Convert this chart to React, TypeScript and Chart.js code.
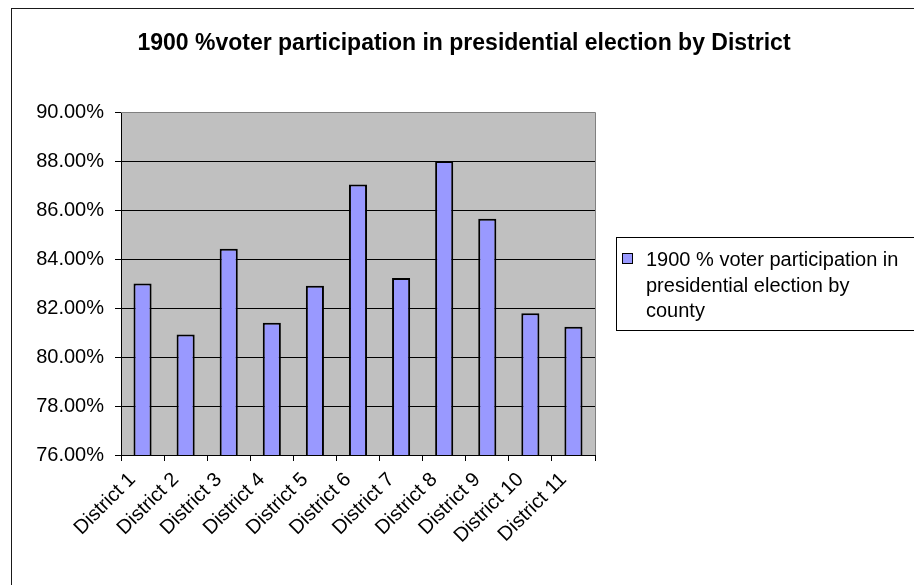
import React, { useEffect, useRef } from "react";
import { Chart, registerables } from "chart.js";

Chart.register(...registerables);

const chartTitle = "1900 %voter participation in presidential election by District";
const categories = [
  "District 1",
  "District 2",
  "District 3",
  "District 4",
  "District 5",
  "District 6",
  "District 7",
  "District 8",
  "District 9",
  "District 10",
  "District 11",
];
const participation = [83.0, 80.92, 84.42, 81.4, 82.91, 87.04, 83.22, 88.0, 85.64, 81.79, 81.23];
const seriesLabel = "1900 % voter participation in presidential election by county";
const legendLines = ["1900 % voter participation in", "presidential election by", "county"];
const yMin = 76;
const yMax = 90;
const yStep = 2;

const FONT = "'Liberation Sans', Arial, sans-serif";
const BAR_FILL = "#9999FF";
const PLOT_BG = "#C0C0C0";

const decorPlugin = {
  id: "decor",
  beforeDraw(chart: any) {
    const { ctx, chartArea } = chart;
    ctx.save();
    ctx.fillStyle = "#ffffff";
    ctx.fillRect(0, 0, chart.width, chart.height);
    // outer frame
    ctx.strokeStyle = "#1a1a1a";
    ctx.lineWidth = 1;
    ctx.strokeRect(11.5, 8.5, chart.width + 20, chart.height + 20);
    // plot background
    ctx.fillStyle = PLOT_BG;
    ctx.fillRect(chartArea.left, chartArea.top, chartArea.right - chartArea.left, chartArea.bottom - chartArea.top);
    // title
    ctx.fillStyle = "#000";
    ctx.font = `bold 23px ${FONT}`;
    ctx.textAlign = "center";
    ctx.textBaseline = "alphabetic";
    ctx.fillText(chartTitle, 464, 50);
    ctx.restore();
  },
  afterDatasetsDraw(chart: any) {
    const { ctx, chartArea } = chart;
    ctx.save();
    // plot border (top/right grey)
    ctx.strokeStyle = "#808080";
    ctx.lineWidth = 1;
    ctx.beginPath();
    ctx.moveTo(chartArea.left, Math.round(chartArea.top) + 0.5);
    ctx.lineTo(Math.round(chartArea.right) + 0.5, Math.round(chartArea.top) + 0.5);
    ctx.lineTo(Math.round(chartArea.right) + 0.5, chartArea.bottom);
    ctx.stroke();
    // legend box
    const lx = 616.5;
    const ly = 237.5;
    ctx.fillStyle = "#fff";
    ctx.fillRect(lx, ly, 400, 93);
    ctx.strokeStyle = "#000";
    ctx.strokeRect(lx, ly, 400, 93);
    // swatch
    ctx.fillStyle = BAR_FILL;
    ctx.fillRect(622.5, 253.5, 10, 10);
    ctx.strokeStyle = "#000";
    ctx.strokeRect(622.5, 253.5, 10, 10);
    ctx.fillStyle = "#000";
    ctx.font = `20px ${FONT}`;
    ctx.textAlign = "left";
    ctx.textBaseline = "alphabetic";
    legendLines.forEach((line, i) => {
      ctx.fillText(line, 646, 266 + i * 25.5);
    });
    ctx.restore();
  },
};

export default function App() {
  const canvasRef = useRef<HTMLCanvasElement | null>(null);

  useEffect(() => {
    const canvas = canvasRef.current;
    if (!canvas) return;
    const chart = new Chart(canvas, {
      type: "bar",
      data: {
        labels: categories,
        datasets: [
          {
            label: seriesLabel,
            data: participation,
            backgroundColor: BAR_FILL,
            borderColor: "#000000",
            borderWidth: 2,
            borderSkipped: false,
            barPercentage: 0.42,
            categoryPercentage: 1,
          },
        ],
      },
      options: {
        responsive: false,
        animation: false,
        devicePixelRatio: 1,
        layout: { padding: { left: 0, top: 112, right: 319, bottom: 0 } },
        plugins: {
          legend: { display: false },
          title: { display: false },
          tooltip: { enabled: false },
        },
        scales: {
          x: {
            offset: true,
            grid: {
              display: true,
              offset: true,
              drawOnChartArea: false,
              drawTicks: true,
              tickLength: 6,
              color: "#000",
            },
            border: { display: true, color: "#000", width: 1 },
            ticks: {
              minRotation: 45,
              maxRotation: 45,
              autoSkip: false,
              color: "#000",
              padding: 7,
              labelOffset: -10,
              font: { family: FONT, size: 20 },
            },
            afterFit(scale: any) {
              scale.height = 130;
            },
          },
          y: {
            min: yMin,
            max: yMax,
            grid: { color: "#000", tickLength: 6, lineWidth: 1 },
            border: { display: true, color: "#000", width: 1 },
            ticks: {
              stepSize: yStep,
              color: "#000",
              padding: 11,
              font: { family: FONT, size: 20 },
              callback: (v: any) => Number(v).toFixed(2) + "%",
            },
            afterFit(scale: any) {
              scale.width = 121;
            },
          },
        },
      },
      plugins: [decorPlugin],
    });
    return () => chart.destroy();
  }, []);

  return (
    <div style={{ position: "fixed", left: 0, top: 0, width: 914, height: 585, background: "#fff" }}>
      <canvas ref={canvasRef} width={914} height={585} style={{ width: 914, height: 585, display: "block" }} />
    </div>
  );
}
